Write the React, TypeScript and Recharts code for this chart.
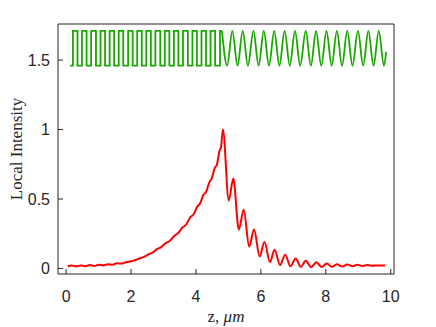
import React from "react";
import { LineChart, Line, XAxis, YAxis } from "recharts";

const X_TICKS = [0, 2, 4, 6, 8, 10];
const Y_TICKS = [0, 0.5, 1, 1.5];

// refractive index profile, square part: start, then alternating rise/fall edges
const gratingStart = 0.12;
const gratingLow = 1.46;
const gratingHigh = 1.71;
const gratingEdges = [
  0.21, 0.35, 0.49, 0.63, 0.77, 0.92, 1.06, 1.2, 1.34, 1.48, 1.62, 1.76,
  1.91, 2.05, 2.19, 2.33, 2.47, 2.61, 2.75, 2.9, 3.04, 3.18, 3.32, 3.46,
  3.6, 3.75, 3.89, 4.03, 4.17, 4.31, 4.45, 4.59, 4.74,
];
const gratingEnd = 4.8;

// sinusoidal part: extrema positions and values
const waveZ = [
  4.8, 4.96, 5.12, 5.28, 5.44, 5.6, 5.77, 5.93, 6.09, 6.25, 6.41, 6.57, 6.73,
  6.89, 7.05, 7.21, 7.38, 7.54, 7.7, 7.86, 8.02, 8.18, 8.34, 8.5, 8.66, 8.82,
  8.99, 9.15, 9.31, 9.47, 9.63, 9.79, 9.86,
];
const waveV = [
  1.71, 1.46, 1.71, 1.46, 1.71, 1.46, 1.71, 1.46, 1.71, 1.46, 1.71, 1.46,
  1.71, 1.46, 1.71, 1.46, 1.71, 1.46, 1.71, 1.46, 1.71, 1.46, 1.71, 1.46,
  1.71, 1.46, 1.71, 1.46, 1.71, 1.46, 1.71, 1.46, 1.56,
];

// local intensity
const intensityZ = [
  0.05, 0.17, 0.31, 0.45, 0.59, 0.73, 0.87, 1.01, 1.15, 1.29, 1.43, 1.57,
  1.71, 1.84, 2.0, 2.1, 2.28, 2.38, 2.55, 2.65, 2.82, 2.92, 3.08, 3.18, 3.34,
  3.44, 3.59, 3.69, 3.83, 3.93, 4.04, 4.12, 4.23, 4.31, 4.42, 4.48, 4.58,
  4.64, 4.73, 4.77, 4.83, 5.01, 5.15, 5.32, 5.47, 5.64, 5.79, 5.96, 6.11,
  6.28, 6.42, 6.59, 6.75, 6.91, 7.07, 7.23, 7.38, 7.55, 7.71, 7.87, 8.03,
  8.19, 8.34, 8.5, 8.66, 8.82, 8.97, 9.13, 9.29, 9.45, 9.62, 9.83,
];
const intensityV = [
  0.016, 0.022, 0.015, 0.022, 0.016, 0.024, 0.018, 0.027, 0.022, 0.031,
  0.027, 0.037, 0.035, 0.045, 0.052, 0.058, 0.074, 0.081, 0.103, 0.112,
  0.142, 0.152, 0.184, 0.196, 0.236, 0.251, 0.296, 0.314, 0.37, 0.39,
  0.445, 0.465, 0.53, 0.55, 0.625, 0.645, 0.725, 0.745, 0.85, 0.87, 1.0,
  0.49, 0.647, 0.279, 0.423, 0.157, 0.281, 0.086, 0.19, 0.045, 0.135, 0.025,
  0.099, 0.015, 0.072, 0.011, 0.055, 0.009, 0.045, 0.01, 0.036, 0.012,
  0.031, 0.014, 0.028, 0.016, 0.026, 0.018, 0.024, 0.02, 0.022, 0.021,
];

const squareData: { z: number; v: number }[] = [{ z: gratingStart, v: gratingLow }];
let level = gratingLow;
gratingEdges.forEach((e) => {
  squareData.push({ z: e, v: level });
  level = level === gratingLow ? gratingHigh : gratingLow;
  squareData.push({ z: e, v: level });
});
squareData.push({ z: gratingEnd, v: level });

const waveData = waveZ.map((z, i) => ({ z, v: waveV[i] }));
const intensityData = intensityZ.map((z, i) => ({ z, v: intensityV[i] }));

const AXIS = "#262626";
const GREEN = "#1aa800";
const tickFont = { fill: AXIS, fontSize: 16, fontFamily: "Liberation Sans" };

const XLabel = (props: any) => {
  const vb = props.viewBox;
  return (
    <text
      x={vb.x + vb.width / 2}
      y={vb.y + 48}
      textAnchor="middle"
      fontFamily="Liberation Serif"
      fontSize={17}
      fill={AXIS}
    >
      <tspan fontStyle="normal">z, </tspan>
      <tspan fontStyle="italic">μm</tspan>
    </text>
  );
};

export default function App() {
  return (
    <div style={{ position: "absolute", left: 0, top: 0, background: "#fff" }}>
      <LineChart
        width={436}
        height={327}
        margin={{ top: 23, right: 41, bottom: 0, left: 0 }}
      >
        <XAxis
          xAxisId="b"
          type="number"
          dataKey="z"
          domain={[-0.25, 10.1]}
          allowDataOverflow
          ticks={X_TICKS}
          height={53}
          tickSize={-5}
          tickMargin={22}
          stroke={AXIS}
          tick={tickFont}
          label={XLabel}
        />
        <XAxis
          xAxisId="t"
          orientation="top"
          type="number"
          dataKey="z"
          domain={[-0.25, 10.1]}
          allowDataOverflow
          ticks={X_TICKS}
          height={1}
          tickSize={-5}
          tick={false}
          stroke={AXIS}
        />
        <YAxis
          yAxisId="l"
          type="number"
          domain={[-0.04, 1.76]}
          allowDataOverflow
          ticks={Y_TICKS}
          width={58}
          tickSize={-5}
          tickMargin={13}
          stroke={AXIS}
          tick={tickFont}
          label={{
            value: "Local Intensity",
            angle: -90,
            position: "center",
            dx: -13,
            style: { fontFamily: "Liberation Serif", fontSize: 17, fill: AXIS },
          }}
        />
        <YAxis
          yAxisId="r"
          orientation="right"
          type="number"
          domain={[-0.04, 1.76]}
          allowDataOverflow
          ticks={Y_TICKS}
          width={1}
          tickSize={-5}
          tick={false}
          stroke={AXIS}
        />
        <Line
          xAxisId="b"
          yAxisId="l"
          data={squareData}
          dataKey="v"
          type="linear"
          stroke={GREEN}
          strokeWidth={1.8}
          dot={false}
          isAnimationActive={false}
        />
        <Line
          xAxisId="b"
          yAxisId="l"
          data={waveData}
          dataKey="v"
          type="monotone"
          stroke={GREEN}
          strokeWidth={1.8}
          dot={false}
          isAnimationActive={false}
        />
        <Line
          xAxisId="b"
          yAxisId="l"
          data={intensityData}
          dataKey="v"
          type="monotone"
          stroke="#ff0000"
          strokeWidth={2}
          dot={false}
          isAnimationActive={false}
        />
      </LineChart>
    </div>
  );
}
